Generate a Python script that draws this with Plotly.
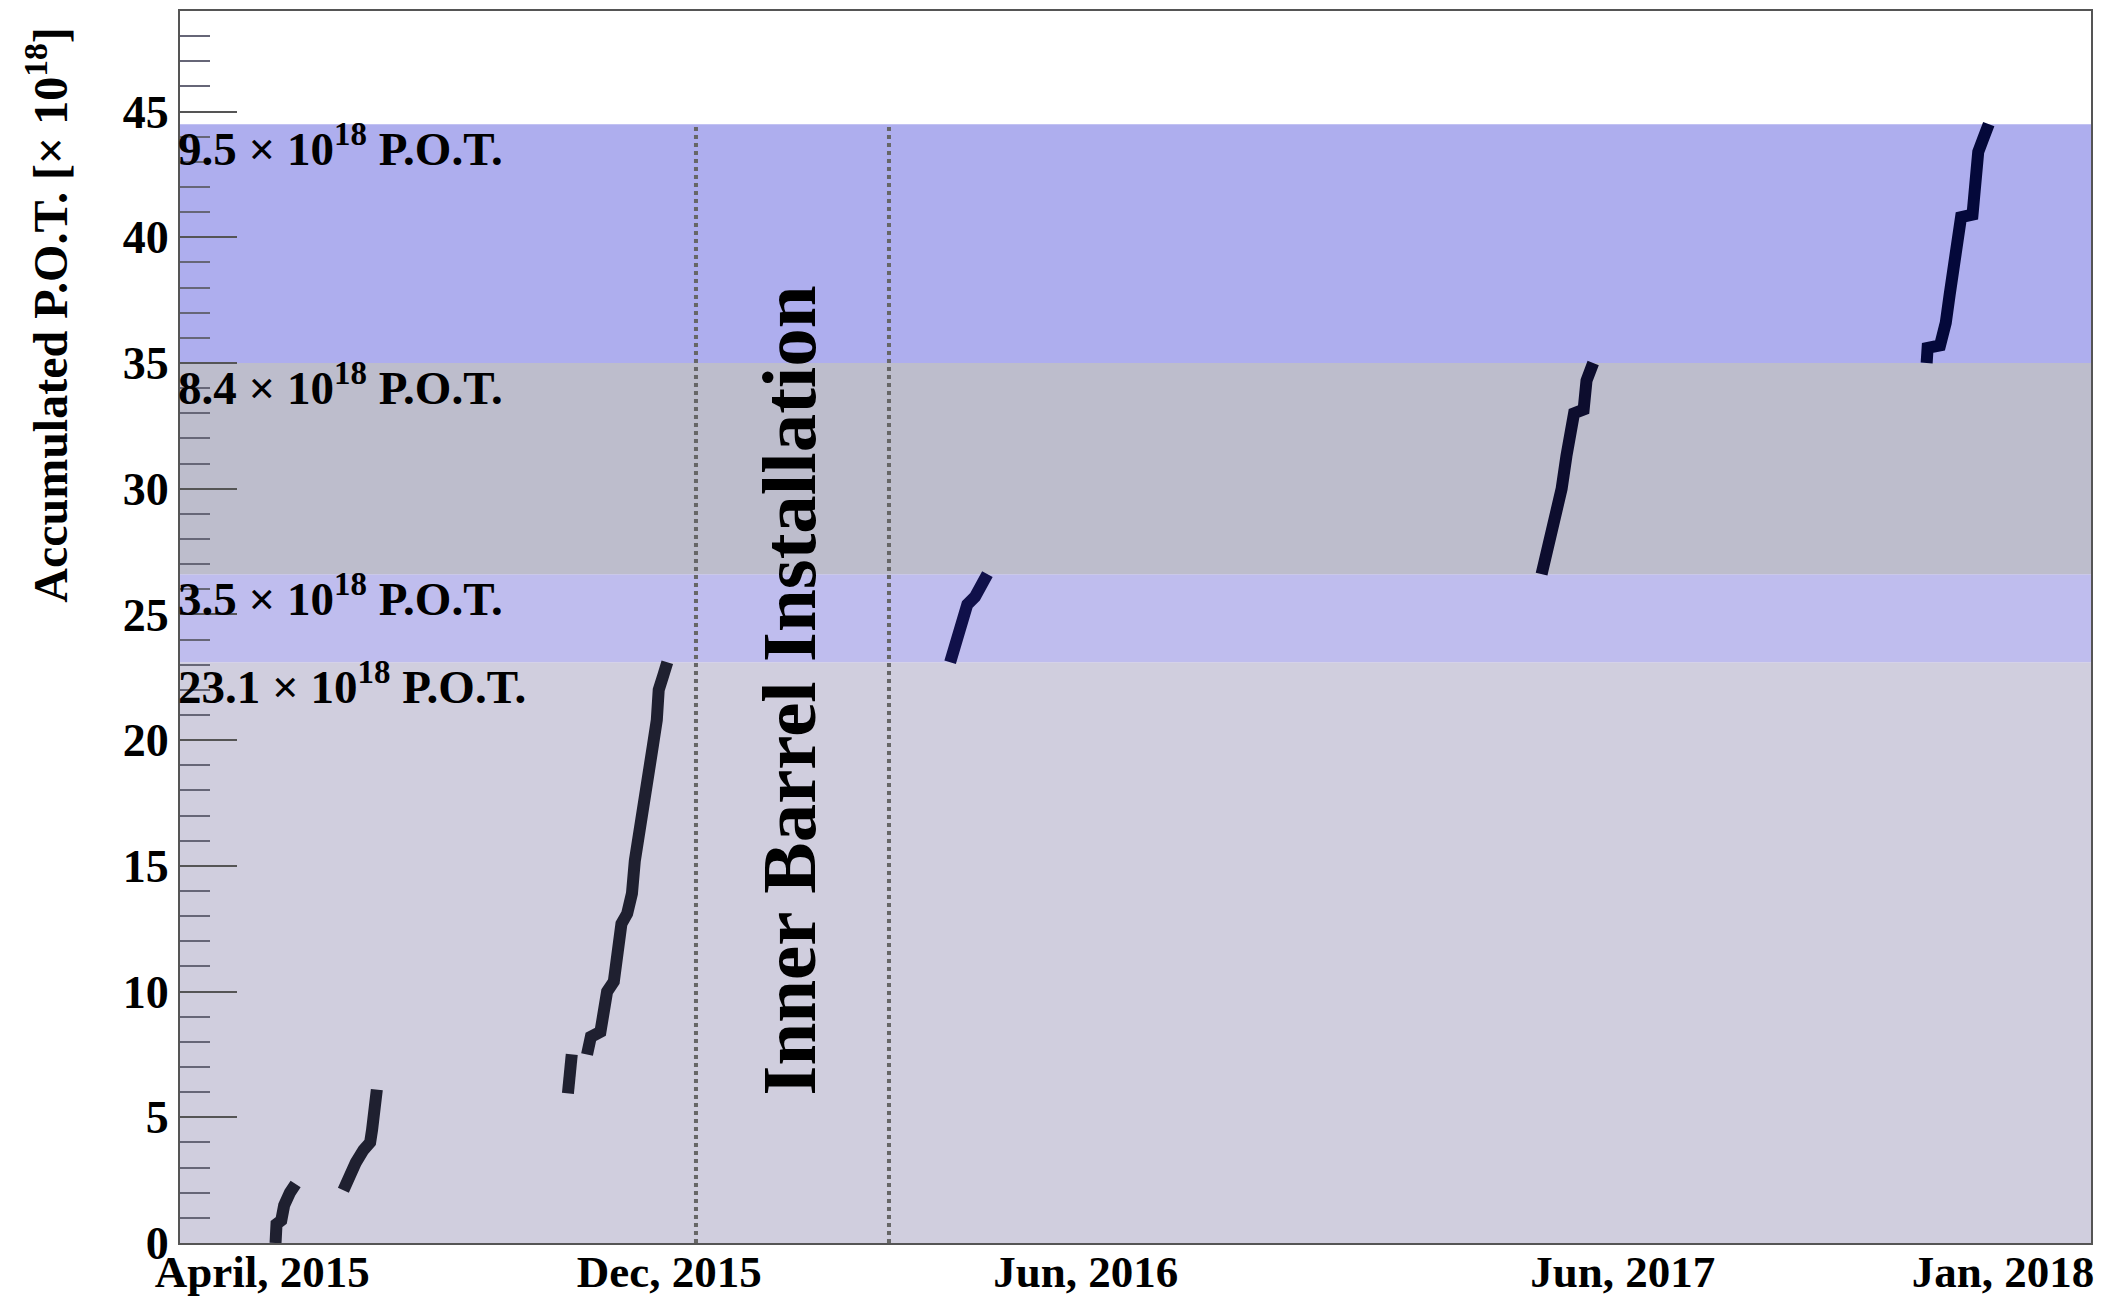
import plotly.graph_objects as go

# ---------------- data ----------------
# x is a relative run-time coordinate (0..100 across the plot), y = accumulated P.O.T. [x 1e18]
run1_x = [5.0, 5.05, 5.3, 5.45, 5.75, 6.05]
run1_y = [0.0, 0.75, 0.9, 1.5, 2.0, 2.35]

run2_x = [8.55, 8.8, 9.2, 9.6, 9.95, 10.05, 10.15, 10.3]
run2_y = [2.1, 2.6, 3.2, 3.7, 4.0, 4.5, 5.3, 6.1]

run3a_x = [20.3, 20.35, 20.5]
run3a_y = [5.95, 6.8, 7.5]

run3b_x = [21.3, 21.5, 22.0, 22.2, 22.35, 22.7, 22.9, 23.1, 23.4, 23.65, 23.8,
           24.05, 24.3, 24.5, 24.75, 24.95, 25.05, 25.3, 25.5]
run3b_y = [7.5, 8.2, 8.4, 9.2, 10.0, 10.4, 11.5, 12.7, 13.1, 13.9, 15.2,
           16.6, 18.0, 19.2, 19.8, 20.8, 22.0, 22.6, 23.1]

run4_x = [40.3, 40.55, 40.85, 41.2, 41.6, 41.95, 42.25]
run4_y = [23.1, 23.8, 24.6, 25.4, 25.7, 26.2, 26.6]

run5_x = [71.25, 71.6, 71.9, 72.3, 72.55, 72.7, 72.95, 73.45, 73.6, 73.95]
run5_y = [26.6, 27.7, 28.9, 30.0, 31.3, 32.3, 33.0, 33.15, 34.3, 35.0]

run6_x = [91.4, 91.45, 92.1, 92.4, 92.6, 92.85, 93.0, 93.2, 93.8, 93.95, 94.1, 94.35, 94.65]
run6_y = [35.0, 35.6, 35.7, 36.6, 37.7, 39.1, 40.2, 40.8, 40.9, 41.8, 43.4, 43.9, 44.5]

band_edges = [0.0, 23.1, 26.6, 35.0, 44.5]
band_labels = ["23.1", "3.5", "8.4", "9.5"]
band_colors = ["#D0CEDE", "#BFBDEE", "#BDBDCC", "#AEAEEE"]

xtick_vals = [4.3, 25.6, 47.4, 75.5, 95.4]
xtick_text = ["April, 2015", "Dec, 2015", "Jun, 2016", "Jun, 2017", "Jan, 2018"]

install_lines_x = [27.0, 37.1]

# ---------------- figure ----------------
FONT = "Liberation Serif"
fig = go.Figure()

runs = [
    (run1_x, run1_y, "#1F2030"),
    (run2_x, run2_y, "#1F2030"),
    (run3a_x, run3a_y, "#1F2030"),
    (run3b_x, run3b_y, "#1F2030"),
    (run4_x, run4_y, "#10104A"),
    (run5_x, run5_y, "#0D0D2E"),
    (run6_x, run6_y, "#04083A"),
]
for xs, ys, col in runs:
    fig.add_trace(go.Scatter(x=xs, y=ys, mode="lines",
                             line=dict(color=col, width=12),
                             showlegend=False, hoverinfo="skip"))

# P.O.T. bands
for i in range(len(band_labels)):
    fig.add_shape(type="rect", xref="paper", yref="y",
                  x0=0, x1=1, y0=band_edges[i], y1=band_edges[i + 1],
                  fillcolor=band_colors[i], line=dict(width=0), layer="below")
    fig.add_annotation(xref="x", yref="y", x=0, y=band_edges[i + 1],
                       xanchor="left", yanchor="top", showarrow=False,
                       xshift=-4, yshift=10,
                       text=band_labels[i] + " × 10<sup>18</sup> P.O.T.",
                       font=dict(family=FONT, size=47, color="black", weight="bold"))

# Inner barrel installation period
for xv in install_lines_x:
    fig.add_shape(type="line", xref="x", yref="y", x0=xv, x1=xv,
                  y0=0, y1=band_edges[-1],
                  line=dict(color="#666666", width=4, dash="dot"))

fig.add_annotation(xref="x", yref="y", x=31.85, y=21.96, textangle=-90,
                   showarrow=False, text="Inner Barrel Installation",
                   font=dict(family=FONT, size=77, color="black", weight="bold"))

# y-axis title (ROOT style: aligned to the top of the axis)
fig.add_annotation(xref="paper", yref="paper", x=-0.07, y=0.989,
                   xanchor="center", yanchor="top", textangle=-90,
                   showarrow=False,
                   text="Accumulated P.O.T. [× 10<sup>18</sup>]",
                   font=dict(family=FONT, size=48, color="black", weight="bold"))

fig.update_layout(
    width=2109, height=1300,
    margin=dict(l=180, r=18, t=11, b=57, autoexpand=False),
    paper_bgcolor="white", plot_bgcolor="white",
    font=dict(family=FONT, color="black"),
    xaxis=dict(range=[0, 100], tickvals=xtick_vals, ticktext=xtick_text,
               ticks="", showgrid=False, zeroline=False, automargin=False,
               ticklabelstandoff=-12,
               showline=True, mirror=True, linecolor="#555555", linewidth=2,
               tickfont=dict(family=FONT, size=45, color="black", weight="bold")),
    yaxis=dict(range=[0, 49], dtick=5, tick0=0, ticks="inside", ticklen=57,
               tickwidth=2, tickcolor="#555555", automargin=False,
               minor=dict(dtick=1, ticks="inside", ticklen=30, tickwidth=2,
                          tickcolor="#666677", showgrid=False),
               showgrid=False, zeroline=False,
               showline=True, mirror=True, linecolor="#555555", linewidth=2,
               tickfont=dict(family=FONT, size=46, color="black", weight="bold")),
)

fig.write_html("out.html", config={"displayModeBar": False},
               post_script="document.body.style.margin='0px';document.body.style.overflow='hidden';")
